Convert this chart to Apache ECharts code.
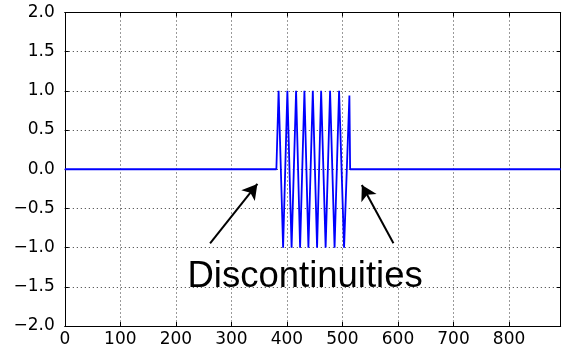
<!DOCTYPE html>
<html>
<head>
<meta charset="utf-8">
<style>
  html, body { margin: 0; padding: 0; background: #fff; }
  #chart { width: 564px; height: 351px; }
</style>
<script src="https://cdn.jsdelivr.net/npm/echarts@6/dist/echarts.min.js"></script>
</head>
<body>
<div id="chart"></div>
<script>
// Signal samples (x, y)
const signalX = [0, 381.0, 385.0, 393.1, 400.8, 408.4, 416.5, 423.7, 431.5, 438.7, 446.6, 454.3, 461.6, 469.7, 477.7, 485.8, 493.9, 502.9, 512.5, 513.8, 893];
const signalY = [0, 0, 1, -1, 1, -1, 1, -1, 1, -1, 1, -1, 1, -1, 1, -1, 1, -1, 0.94, 0, 0];

// Axes
const xRange = [0, 893];
const xStep = 100;
const yRange = [-2, 2];
const yStep = 0.5;

// Annotation
const annotationText = 'Discontinuities';
const annotationPos = [432.7, -1.375];
const arrowTails = [[261.6, -0.945], [591.8, -0.945]];
const arrowHeads = [[346.8, -0.188], [534.9, -0.20]];

const data = signalX.map((x, i) => [x, signalY[i]]);

const chart = echarts.init(document.getElementById('chart'), null, { renderer: 'canvas' });

const labelFont = { fontFamily: 'DejaVu Sans', fontSize: 17, color: '#000' };
const fmtY = v => v.toFixed(1).replace('-', '\u2212');

chart.setOption({
  animation: false,
  backgroundColor: '#fff',
  grid: { left: 64.8, right: 3.3, top: 12.5, bottom: 25, containLabel: false },
  xAxis: [
    {
      type: 'value', min: xRange[0], max: xRange[1], interval: xStep,
      axisLine: { show: true, onZero: false, lineStyle: { color: '#000', width: 1 } },
      axisTick: { show: true, inside: true, length: 4, lineStyle: { color: '#000' } },
      axisLabel: Object.assign({ margin: 5, showMaxLabel: false }, labelFont),
      splitLine: { show: true, lineStyle: { color: '#000', width: 0.8, type: [1, 3] } }
    },
    {
      type: 'value', position: 'top', min: xRange[0], max: xRange[1], interval: xStep,
      axisLine: { show: true, onZero: false, lineStyle: { color: '#000', width: 1 } },
      axisTick: { show: true, inside: true, length: 4, lineStyle: { color: '#000' } },
      axisLabel: { show: false },
      splitLine: { show: false }
    }
  ],
  yAxis: [
    {
      type: 'value', min: yRange[0], max: yRange[1], interval: yStep,
      axisLine: { show: true, onZero: false, lineStyle: { color: '#000', width: 1 } },
      axisTick: { show: true, inside: true, length: 4, lineStyle: { color: '#000' } },
      axisLabel: Object.assign({ margin: 10, formatter: fmtY }, labelFont),
      splitLine: { show: true, lineStyle: { color: '#000', width: 0.8, type: [1, 3] } }
    },
    {
      type: 'value', position: 'right', min: yRange[0], max: yRange[1], interval: yStep,
      axisLine: { show: true, onZero: false, lineStyle: { color: '#000', width: 1 } },
      axisTick: { show: true, inside: true, length: 4, lineStyle: { color: '#000' } },
      axisLabel: { show: false },
      splitLine: { show: false }
    }
  ],
  series: [
    {
      type: 'line',
      data: data,
      showSymbol: false,
      symbol: 'none',
      lineStyle: { color: '#0000ff', width: 1.8 },
      itemStyle: { color: '#0000ff' },
      silent: true,
      markLine: {
        silent: true,
        symbol: ['none', 'arrow'],
        symbolSize: [13, 15],
        label: { show: false },
        lineStyle: { color: '#000', width: 2, type: 'solid' },
        itemStyle: { color: '#000' },
        emphasis: { disabled: true },
        data: arrowTails.map((t, i) => [{ coord: t }, { coord: arrowHeads[i] }])
      },
      markPoint: {
        silent: true,
        symbol: 'circle',
        symbolSize: 0,
        itemStyle: { color: 'rgba(0,0,0,0)' },
        label: {
          show: true,
          position: 'inside',
          formatter: annotationText,
          fontFamily: 'Liberation Sans',
          fontSize: 36.5,
          color: '#000'
        },
        data: [{ coord: annotationPos }]
      }
    }
  ]
});
</script>
</body>
</html>
